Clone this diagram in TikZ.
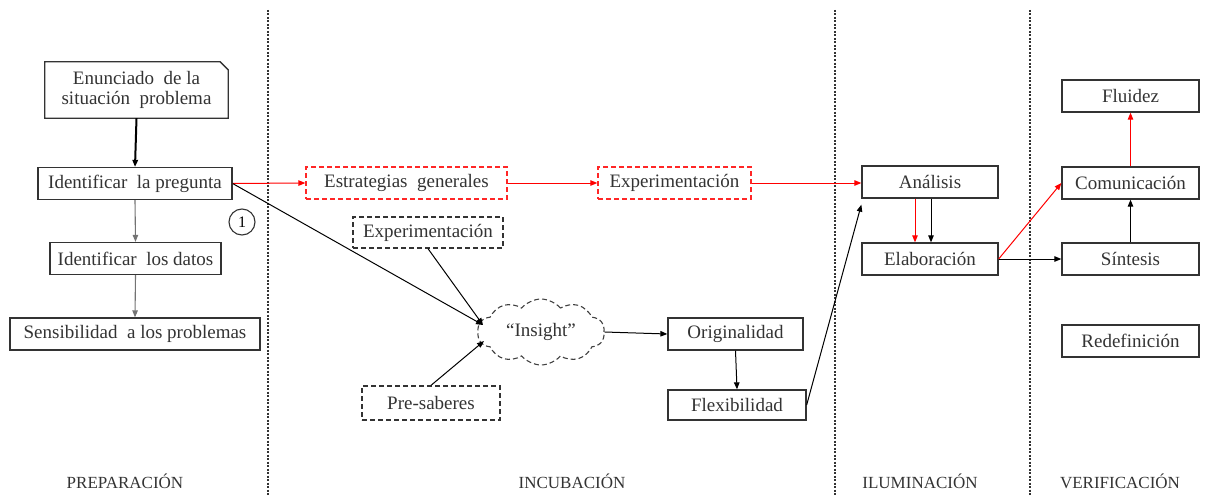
\documentclass[tikz,border=0pt]{standalone}
\usepackage{fontspec}
\setmainfont{Liberation Serif}
\usetikzlibrary{arrows.meta,shapes.symbols,calc}
\begin{document}
\begin{tikzpicture}[x=1pt,y=-1pt,
  font=\fontsize{19}{22}\selectfont,
  tip/.style={-{Triangle[length=7pt,width=5.5pt]}},
  box/.style={draw=black!80,line width=1.3pt,minimum height=32pt,inner sep=1pt,text=black!80},
  dbox/.style={box,dashed,dash pattern=on 5pt off 3pt},
  rbox/.style={box,draw=red!85,dashed,dash pattern=on 5pt off 3pt},
  conn/.style={tip,line width=1pt,draw=black},
  gconn/.style={tip,line width=1.1pt,draw=black!55},
  rconn/.style={tip,line width=1pt,draw=red},
  divider/.style={line width=1.2pt,dash pattern=on 2pt off 1.5pt,draw=black!80},
  phase/.style={font=\fontsize{17}{19}\selectfont,text=black!80}]
\useasboundingbox (0,0) rectangle (1206,495);
% dividers
\coordinate (d1t) at (268,10); \coordinate (d1b) at (268,495);
\coordinate (d2t) at (835,10); \coordinate (d2b) at (835,495);
\coordinate (d3t) at (1030,10); \coordinate (d3b) at (1030,495);
\draw[divider] (d1t) -- (d1b);
\draw[divider] (d2t) -- (d2b);
\draw[divider] (d3t) -- (d3b);
% preparation
\node[minimum width=183pt,minimum height=56pt,inner sep=1pt,align=center,text=black!80] (enun) at (136.5,90) {Enunciado\ \ de la\\[-2pt]situación\ \ problema};
\draw[line width=1.3pt,draw=black!80] (enun.south west) -- (enun.north west) -- ([xshift=-8pt]enun.north east) -- ([yshift=-8pt]enun.north east) -- (enun.south east) -- cycle;
\node[box,minimum width=194pt] (preg) at (135,183.5) {Identificar\ \ la pregunta};
\node[draw=black!80,line width=1.1pt,circle,minimum size=26pt,inner sep=0pt,font=\fontsize{16}{18}\selectfont] (one) at (242,222) {1};
\node[box,minimum width=171pt] (datos) at (135.5,258.5) {Identificar\ \ los datos};
\node[box,minimum width=250pt] (sens) at (135,334) {Sensibilidad\ \ a los problemas};
\draw[tip,line width=2pt,draw=black] (enun.south) -- (preg.north);
\draw[gconn] (preg.south) -- (datos.north);
\draw[gconn] (datos.south) -- (sens.north);
% incubation
\node[rbox,minimum width=201pt] (estr) at (406.5,183) {Estrategias\ \ generales};
\node[rbox,minimum width=153pt] (expr) at (674.5,183) {Experimentación};
\node[dbox,minimum width=150pt,minimum height=31pt] (expb) at (428,232.5) {Experimentación};
\node[cloud,cloud puffs=10,cloud puff arc=100,aspect=2.0,draw=black!75,line width=1.1pt,dashed,dash pattern=on 5pt off 3pt,minimum width=127pt,minimum height=66pt,inner sep=0pt,text=black!80] (ins) at (541,332) {``Insight''};
\node[dbox,minimum width=138pt,minimum height=34pt] (pres) at (431,403) {Pre-saberes};
\node[box,minimum width=135pt] (orig) at (735.5,334) {Originalidad};
\node[box,minimum width=138pt,minimum height=30pt] (flex) at (737,405) {Flexibilidad};
\coordinate (insw) at (483,325);
\coordinate (insw2) at (484,341);
\draw[rconn] (preg.east) -- (estr.west);
\draw[rconn] (estr.east) -- (expr.west);
\draw[conn] (preg.east) -- (insw);
\draw[conn] (expb.south) -- (insw);
\draw[conn] (pres.north) -- (insw2);
\draw[conn] (ins.east) -- (orig.west);
\draw[conn] (orig.south) -- (flex.north);
% illumination
\node[box,minimum width=136pt] (anal) at (930,182) {Análisis};
\node[box,minimum width=136pt] (elab) at (930,259) {Elaboración};
\draw[rconn] (expr.east) -- (expr.east -| anal.west);
\draw[conn] (flex.east) -- ([yshift=-6pt]anal.south west);
\draw[rconn] ([xshift=-15pt]anal.south) -- ([xshift=-15pt]elab.north);
\draw[conn] ([xshift=1pt]anal.south) -- ([xshift=1pt]elab.north);
% verification
\node[box,minimum width=137pt] (flu) at (1130.5,96) {Fluidez};
\node[box,minimum width=137pt] (com) at (1130.5,183) {Comunicación};
\node[box,minimum width=137pt] (sin) at (1130.5,259) {Síntesis};
\node[box,minimum width=137pt] (red) at (1130.5,341) {Redefinición};
\draw[rconn] (elab.east) -- (com.west);
\draw[conn] (elab.east) -- (sin.west);
\draw[conn] (sin.north) -- (com.south);
\draw[rconn] (com.north) -- (flu.south);
% phases
\node[phase] (p1) at (125,481) {PREPARACIÓN};
\node[phase] (p2) at (572,481) {INCUBACIÓN};
\node[phase] (p3) at (920,481) {ILUMINACIÓN};
\node[phase] (p4) at (1120,481) {VERIFICACIÓN};
\end{tikzpicture}
\end{document}
